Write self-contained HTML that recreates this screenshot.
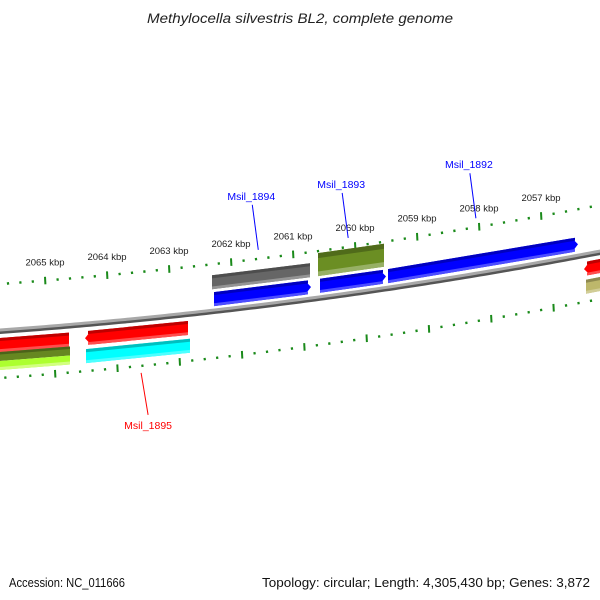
<!DOCTYPE html>
<html><head><meta charset="utf-8"><style>
html,body{margin:0;padding:0;background:#fff;}
svg{display:block;}
text{font-family:"Liberation Sans",sans-serif;}
</style></head><body>
<svg id="chart" width="600" height="600" viewBox="0 0 600 600">
<text x="147" y="23" textLength="306" lengthAdjust="spacingAndGlyphs" font-size="13.5" font-style="italic" fill="#222">Methylocella silvestris BL2, complete genome</text>
<g id="ticks"></g>
<g id="backbone"></g>
<g id="genes"></g>
<g id="labels"></g>
<text x="9" y="587" textLength="116" lengthAdjust="spacingAndGlyphs" font-size="12.5" fill="#111">Accession: NC_011666</text>
<text x="262" y="587" textLength="328" lengthAdjust="spacingAndGlyphs" font-size="12.5" fill="#111">Topology: circular; Length: 4,305,430 bp; Genes: 3,872</text>
</svg>
<script>
// ---- data ----
const tickLabels = [2065, 2064, 2063, 2062, 2061, 2060, 2059, 2058, 2057];
const geneNames = ["gray-1894", "olive-1893", "blue-a", "blue-1893", "blue-1892", "red-left", "red-1895", "olive-left", "cyan-1895", "red-right", "khaki-right"];
const geneStarts = [2062.306, 2060.597, 2062.274, 2060.565, 2059.468, 2065.8, 2064.355, 2065.8, 2064.339, 2056.306, 2056.274];
const geneEnds   = [2060.726, 2059.532, 2060.710, 2059.500, 2056.403, 2064.613, 2062.694, 2064.597, 2062.661, 2055.8, 2055.8];
const geneStrand = [1, 1, 1, 1, 1, -1, -1, -1, -1, -1, -1];
const geneArrow  = ["none", "none", "right", "right", "right", "none", "left", "none", "none", "left", "none"];
const geneRow    = ["outer", "outerTall", "inner", "inner", "inner", "inner", "inner", "outer2", "outer", "inner", "outer"];
const geneColor  = ["#666666", "#6b8e23", "#0000ff", "#0000ff", "#0000ff", "#ff0000", "#ff0000", "#6b8e23", "#00ffff", "#ff0000", "#bdb76b"];
const callouts = ["Msil_1894", "Msil_1893", "Msil_1892", "Msil_1895"];
const calloutKbp = [2061.56, 2060.11, 2058.05, 2063.45];
const calloutColor = ["#0000ff", "#0000ff", "#0000ff", "#ff0000"];
const calloutSide = [1, 1, 1, -1];

// ---- scales ----
const NS = "http://www.w3.org/2000/svg";
function xOf(kbp){ return 45 + (2065 - kbp) * 62; }
function xIn(kbp){ return 55 + (2065 - kbp) * 62.3; }
function bb(x){ return 331 - 0.0719 * x - 0.0000995 * x * x; }
function mk(tag, attrs, parent){ const e = document.createElementNS(NS, tag); for (const k in attrs) e.setAttribute(k, attrs[k]); parent.appendChild(e); return e; }

// backbone
const bg = document.getElementById('backbone');
let pts = [], pts2 = [];
for (let x = -5; x <= 605; x += 5){ pts.push(x + "," + (bb(x) - 1).toFixed(2)); pts2.push(x + "," + (bb(x) + 1.5).toFixed(2)); }
const b1 = mk('polyline', {points: pts2.join(' '), fill: 'none', stroke: '#555', 'stroke-width': 3}, bg);


const b2 = mk('polyline', {points: pts.join(' '), fill: 'none', stroke: '#a8a8a8', 'stroke-width': 3}, bg);



// ticks
const tg = document.getElementById('ticks');
for (let k = 20550; k <= 20660; k += 2){
  const kbp = k / 10, major = (k % 10 === 0);
  [[xOf(kbp), -47], [xIn(kbp), 47]].forEach(function(p, idx){
    const x = p[0]; if (x < -3 || x > 603) return;
    const y = bb(x) + p[1];
    const len = major ? 3.8 : 1.2;
    const t = mk('line', {x1: x, y1: y - len, x2: x + 0.4, y2: y + len, stroke: '#1a8a1a', 'stroke-width': major ? 2 : 2.2}, tg);
    
    
  });
}
tickLabels.forEach(function(v){
  const x = xOf(v);
  const t = mk('text', {x: x, y: bb(x) - 62, 'text-anchor': 'middle', 'font-size': 9.5, fill: '#222'}, tg);
  t.textContent = v + " kbp";
  
  
});

// genes
const rowOff = {outer: [-36, -22], outerTall: [-45, -22], inner: [-19, -5]};
function shade(hex, f){
  const n = parseInt(hex.slice(1), 16); let r = n >> 16, g = (n >> 8) & 255, b = n & 255;
  if (f < 0){ r *= 1 + f; g *= 1 + f; b *= 1 + f; } else { r += (255 - r) * f; g += (255 - g) * f; b += (255 - b) * f; }
  return "rgb(" + Math.round(r) + "," + Math.round(g) + "," + Math.round(b) + ")";
}
const gg = document.getElementById('genes');
function band(x1, x2, o1, o2, arrow, tipMid, fill, name){
  const aw = 6, p = [];
  const xa = arrow === 'left' ? x1 + aw : x1, xb = arrow === 'right' ? x2 - aw : x2;
  p.push([xa, bb(xa) + o1]); p.push([xb, bb(xb) + o1]);
  if (arrow === 'right') p.push([x2, bb(x2) + tipMid]);
  p.push([xb, bb(xb) + o2]); p.push([xa, bb(xa) + o2]);
  if (arrow === 'left') p.push([x1, bb(x1) + tipMid]);
  const e = mk('polygon', {points: p.map(q => q[0].toFixed(1) + "," + q[1].toFixed(1)).join(' '), fill: fill}, gg);
  
  
}
for (let i = 0; i < geneNames.length; i++){
  const x1 = Math.min(xOf(geneStarts[i]), xOf(geneEnds[i])), x2 = Math.max(xOf(geneStarts[i]), xOf(geneEnds[i]));
  let top, bot;
  if (geneStrand[i] > 0){ [top, bot] = rowOff[geneRow[i]]; }
  else if (geneRow[i] === 'inner'){ top = 7; bot = 21; }
  else if (geneRow[i] === 'outer2'){ top = 21; bot = 39; }
  else { top = 25; bot = 39; }
  const h = bot - top, mid = (top + bot) / 2, c = geneColor[i];
  if (geneRow[i] === 'outer2'){
    band(x1, x2, top, top + h * 0.5, 'none', mid, shade(c, -0.05), 'gene-' + geneNames[i]);
    band(x1, x2, top, top + 2.5, 'none', mid, shade(c, -0.3), 'gene-' + geneNames[i] + '-edge');
    band(x1, x2, top + h * 0.5, bot, 'none', mid, '#adff2f', 'gene-' + geneNames[i] + '-lower');
    band(x1, x2, bot - 3, bot, 'none', mid, '#d2ff80', 'gene-' + geneNames[i] + '-light');
    continue;
  }
  band(x1, x2, top, bot, geneArrow[i], mid, c, 'gene-' + geneNames[i]);
  band(x1 + (geneArrow[i] === 'left' ? 3 : 0), x2 - (geneArrow[i] === 'right' ? 3 : 0), top, top + h * 0.22, 'none', mid, shade(c, -0.25), 'gene-' + geneNames[i] + '-top');
  band(x1 + (geneArrow[i] === 'left' ? 3 : 0), x2 - (geneArrow[i] === 'right' ? 3 : 0), bot - h * 0.2, bot, 'none', mid, shade(c, 0.3), 'gene-' + geneNames[i] + '-bottom');
}

// callouts
const lg = document.getElementById('labels');
for (let i = 0; i < callouts.length; i++){
  const x = xOf(calloutKbp[i]);
  let lx, ly, ex, ey, tx, ty;
  if (calloutSide[i] > 0){ ex = x; ey = bb(x) - 56; lx = x - 6; ly = ey - 45; tx = x - 7; ty = ly - 5; }
  else { ex = x; ey = bb(x) + 54; lx = x + 7; ly = ey + 42; tx = lx; ty = ly + 14; }
  const l = mk('line', {x1: lx, y1: ly, x2: ex, y2: ey, stroke: calloutColor[i], 'stroke-width': 1}, lg);
  
  
  const t = mk('text', {x: tx, y: ty, 'text-anchor': 'middle', 'font-size': 10.5, fill: calloutColor[i]}, lg);
  t.textContent = callouts[i];
  
  
}
</script>
</body></html>
